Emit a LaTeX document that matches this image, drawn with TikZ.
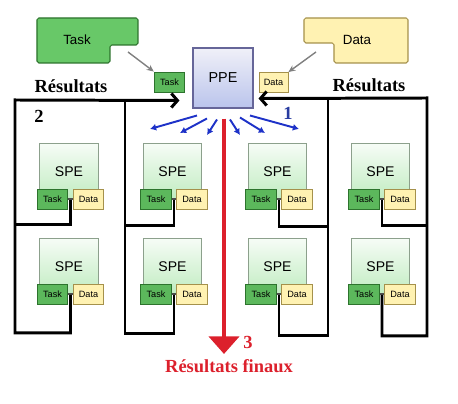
\documentclass[tikz,border=0pt]{standalone}
\usepackage{fontspec}
\setmainfont{Liberation Serif}
\setsansfont{Liberation Sans}
\usetikzlibrary{arrows.meta,positioning,calc}
\definecolor{tkfill}{RGB}{104,200,104}
\definecolor{tkdark}{RGB}{92,184,92}
\definecolor{tkline}{RGB}{45,115,45}
\definecolor{dtfill}{RGB}{255,242,178}
\definecolor{dtline}{RGB}{165,145,75}
\definecolor{ppetop}{RGB}{240,240,248}
\definecolor{ppebot}{RGB}{186,196,236}
\definecolor{spetop}{RGB}{246,252,246}
\definecolor{spebot}{RGB}{192,236,192}
\definecolor{speline}{RGB}{140,160,140}
\definecolor{fanblue}{RGB}{30,50,200}
\definecolor{numblue}{RGB}{40,60,160}
\definecolor{finred}{RGB}{220,32,44}

\begin{document}
\begin{tikzpicture}[x=0.02cm,y=-0.02cm,
    lbl/.style={font=\sffamily\fontsize{7.6}{9}\selectfont},
    small/.style={draw,line width=0.5pt,inner sep=0pt,minimum width=0.61cm,
      minimum height=0.4cm,font=\sffamily\fontsize{5.2}{6}\selectfont},
    taskbox/.style={small,draw=tkline,fill=tkdark},
    databox/.style={small,draw=dtline,fill=dtfill},
    spebody/.style={draw=speline,line width=0.5pt,top color=spetop,bottom color=spebot,
      minimum width=1.17cm,minimum height=1.12cm,inner sep=0pt,anchor=north,
      font=\sffamily\fontsize{8}{9}\selectfont},
    res/.style={line width=1.7pt,black},
    feed/.style={draw=gray,line width=0.8pt,-{Stealth[length=4pt,width=3.5pt]}},
    fan/.style={draw=fanblue,line width=1.1pt,-{Latex[length=3.5pt,width=4pt]}},
    big/.style={font=\rmfamily\bfseries\fontsize{10.5}{12}\selectfont}]
  \useasboundingbox (0,0) rectangle (458,404);
  % Task and Data sources
  \draw[tkline,fill=tkfill,line width=0.6pt,rounded corners=1pt]
    (37,18) -- (138,18) -- (138,45) -- (110,45) -- (110,63) -- (37,63) -- cycle;
  \node[lbl] (tsrc) at (77,40) {Task};
  \draw[dtline,fill=dtfill,line width=0.6pt,rounded corners=1pt]
    (304,18) -- (408,18) -- (408,63) -- (334,63) -- (334,43) -- (304,43) -- cycle;
  \node[lbl] (dsrc) at (357,40) {Data};
  \node[draw=gray!80!blue,line width=0.6pt,top color=ppetop,bottom color=ppebot,
    minimum width=1.2cm,minimum height=1.2cm,font=\sffamily\fontsize{8.2}{9}\selectfont]
    (ppe) at (223,78) {PPE};
  \node[taskbox] (ptask) at (169.5,82) {Task};
  \node[databox,minimum width=0.58cm] (pdata) at (273.5,82.5) {Data};
  \coordinate (tfeed) at (128,52);
  \coordinate (dfeed) at (316,52);
  \draw[feed] (tfeed) -- (ptask.north west);
  \draw[feed] (dfeed) -- (pdata.north east);
  % SPE grid
  \foreach \c/\x in {1/69,2/172.5,3/277.5,4/380.5}{
    \foreach \r/\y in {1/143,2/238}{
      \node[spebody] (s\r\c) at (\x,\y) {SPE};
      \node[taskbox] (t\r\c) at (\x-16.5,\y+56) {Task};
      \node[databox] (d\r\c) at (\x+19.5,\y+56) {Data};
      \draw[black!70,line width=0.6pt] (t\r\c) -- (d\r\c);
      \coordinate (j\r\c) at (\x+1.5,\y+57);
    }
  }
  % Results back to PPE
  \coordinate (inL) at ($(ppe.south west)+(-13,-8)$);
  \coordinate (inR) at ($(ppe.south east)+(5,-10)$);
  \draw[res,-{Straight Barb[length=3.5pt,width=8pt]}] (j21) |- (15,333) -- (15,100) -- (inL);
  \draw[res] (j11) |- (15,225);
  \draw[res] (j22) |- (125,334) -- (125,100);
  \draw[res] (j12) |- (125,226);
  \draw[res,-{Straight Barb[length=3.5pt,width=8pt]}] (j24) |- (427,336) -- (427,98) -- (inR);
  \draw[res] (j23) |- (328,336) -- (328,98);
  \draw[res] (j13) |- (328,227);
  \draw[res] (j14) |- (427,226);
  \node[big] (resL) at (71,86) {Résultats};
  \node[big] (resR) at (369,85) {Résultats};
  \node[big] (n2) at (39,116) {2};
  % Distribution to SPEs
  \foreach \i/\dx/\dy/\ex/\ey in {1/-26/7/150/129,2/-16/10/180/133,3/-6/11/207/135,
                                   4/7/11/240/135,5/17/9/265/133,6/27/7/299/129}{
    \coordinate (f\i) at (\ex,\ey);
    \draw[fan] ($(ppe.south)+(\dx,\dy)$) -- (f\i);
  }
  \node[big,text=numblue] (n1) at (288,113) {1};
  % Final results
  \coordinate (fin) at (224,354);
  \draw[finred,line width=2.8pt,-{Triangle[length=10pt,width=17pt]}]
    ($(ppe.south)+(1,10)$) -- (fin);
  \node[big,text=finred] (n3) at (248,342) {3};
  \node[big,text=finred] (final) at (229,366) {Résultats finaux};
\end{tikzpicture}
\end{document}
